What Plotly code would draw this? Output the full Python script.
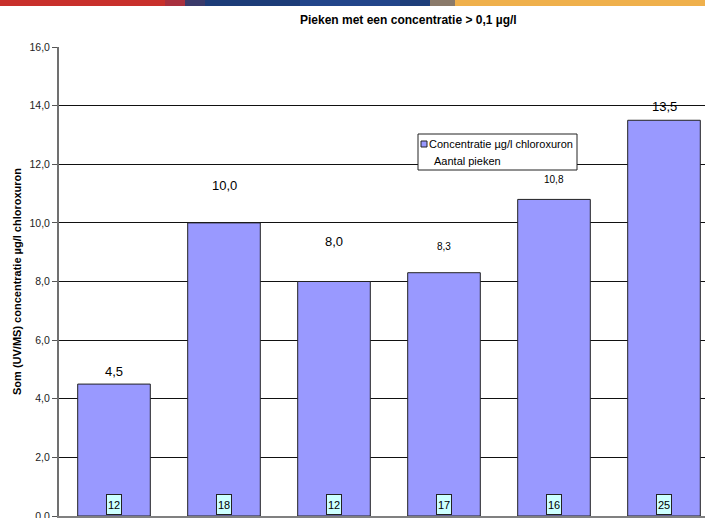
import plotly.graph_objects as go

# Measurements: total chloroxuron concentration (UV/MS) per sample and number of peaks
categories = ["1", "2", "3", "4", "5", "6"]
concentration = [4.5, 10.0, 8.0, 8.3, 10.8, 13.5]
peak_counts = [12, 18, 12, 17, 16, 25]
y_ticks = [0, 2, 4, 6, 8, 10, 12, 14, 16]

title_text = "Pieken met een concentratie > 0,1 µg/l"
y_title = "Som (UV/MS) concentratie µg/l chloroxuron"
legend_labels = ["Concentratie µg/l chloroxuron", "Aantal pieken"]

# Figure geometry (pixels)
W, H = 705, 518
ML, MR, MT, MB = 59, 0, 47, 2
PW, PH = W - ML - MR, H - MT - MB
CAT_PX = 110.0  # pixel spacing between categories

FONT = "Liberation Sans, Arial, sans-serif"
BAR_FILL = "#9999FF"
BOX_FILL = "#CCFFFF"

# Label styling per bar: font size and distance above the bar top
label_sizes = [13, 13, 13, 10, 10, 13]
label_offsets = [13, 37, 40, 26, 20, 14]


def px_x(x):
    return (x - ML) / PW


def px_y(y):
    return (H - MB - y) / PH


def fmt(v):
    return f"{v:.1f}".replace(".", ",")


fig = go.Figure()
fig.add_trace(go.Bar(
    x=categories,
    y=concentration,
    width=0.66,
    marker=dict(color=BAR_FILL, line=dict(color="#222222", width=1)),
    name=legend_labels[0],
    showlegend=False,
    hoverinfo="skip",
))

annotations = []
# value labels above the bars (category axis positions are the bar indices)
for i, v in enumerate(concentration):
    annotations.append(dict(
        x=i, y=v, xref="x", yref="y",
        text=fmt(v), showarrow=False,
        yanchor="middle", yshift=label_offsets[i],
        font=dict(family=FONT, size=label_sizes[i], color="#000000"),
    ))
# peak count boxes at the foot of each bar
for i, n in enumerate(peak_counts):
    annotations.append(dict(
        x=i, y=0, xref="x", yref="y",
        text=str(n), showarrow=False,
        yanchor="bottom", yshift=1,
        width=12, height=17, borderpad=1, borderwidth=1,
        bordercolor="#222222", bgcolor=BOX_FILL,
        font=dict(family=FONT, size=11, color="#000000"),
    ))

# chart title
annotations.append(dict(
    x=px_x(408), y=px_y(20), xref="paper", yref="paper",
    text=f"<b>{title_text}</b>", showarrow=False,
    xanchor="center", yanchor="middle",
    font=dict(family=FONT, size=12, color="#000000"),
))

# legend entries
annotations.append(dict(
    x=px_x(427), y=px_y(144), xref="paper", yref="paper",
    text=legend_labels[0], showarrow=False,
    xanchor="left", yanchor="middle",
    font=dict(family=FONT, size=11, color="#000000"),
))
annotations.append(dict(
    x=px_x(432), y=px_y(161), xref="paper", yref="paper",
    text=legend_labels[1], showarrow=False,
    xanchor="left", yanchor="middle",
    font=dict(family=FONT, size=11, color="#000000"),
))

shapes = []
# legend frame and swatch
shapes.append(dict(
    type="rect", xref="paper", yref="paper",
    x0=px_x(418), x1=px_x(577), y0=px_y(170), y1=px_y(134),
    fillcolor="#FFFFFF", line=dict(color="#222222", width=1), layer="above",
))
shapes.append(dict(
    type="rect", xref="paper", yref="paper",
    x0=px_x(421), x1=px_x(427), y0=px_y(147), y1=px_y(141),
    fillcolor=BAR_FILL, line=dict(color="#222222", width=1), layer="above",
))

# decorative header band across the top edge
band = [
    (0, 165, "#C8302B"),
    (165, 185, "#A8303E"),
    (185, 205, "#3A3A6A"),
    (205, 300, "#1D3C78"),
    (300, 400, "#22458A"),
    (400, 430, "#1E3E7A"),
    (430, 455, "#8A7A6A"),
    (455, 705, "#EFB04C"),
]
for x0, x1, c in band:
    shapes.append(dict(
        type="rect", xref="paper", yref="paper",
        x0=px_x(x0), x1=px_x(x1), y0=px_y(6), y1=px_y(0),
        fillcolor=c, line=dict(width=0), layer="above",
    ))

fig.update_layout(
    width=W, height=H,
    margin=dict(l=ML, r=MR, t=MT, b=MB, pad=0, autoexpand=False),
    paper_bgcolor="#FFFFFF",
    plot_bgcolor="#FFFFFF",
    separators=",.",
    showlegend=False,
    bargap=0.34,
    font=dict(family=FONT, size=10, color="#222222"),
    annotations=annotations,
    shapes=shapes,
    xaxis=dict(
        type="category",
        range=[-0.5, -0.5 + PW / CAT_PX],
        showticklabels=False,
        ticks="",
        showgrid=False,
        showline=True, linecolor="#808080", linewidth=2,
        automargin=False,
        fixedrange=True,
    ),
    yaxis=dict(
        range=[0, 16],
        tickvals=y_ticks,
        tickformat=".1f",
        ticks="outside", ticklen=5, tickcolor="#555555", tickwidth=1,
        ticklabeloverflow="allow",
        showgrid=True, gridcolor="#111111", gridwidth=1,
        zeroline=False,
        showline=True, linecolor="#707070", linewidth=2,
        automargin=False,
        tickfont=dict(family=FONT, size=10.5, color="#222222"),
        title=dict(
            text=f"<b>{y_title}</b>",
            font=dict(family=FONT, size=11, color="#000000"),
            standoff=6,
        ),
        fixedrange=True,
    ),
)

fig.write_html("out.html")
